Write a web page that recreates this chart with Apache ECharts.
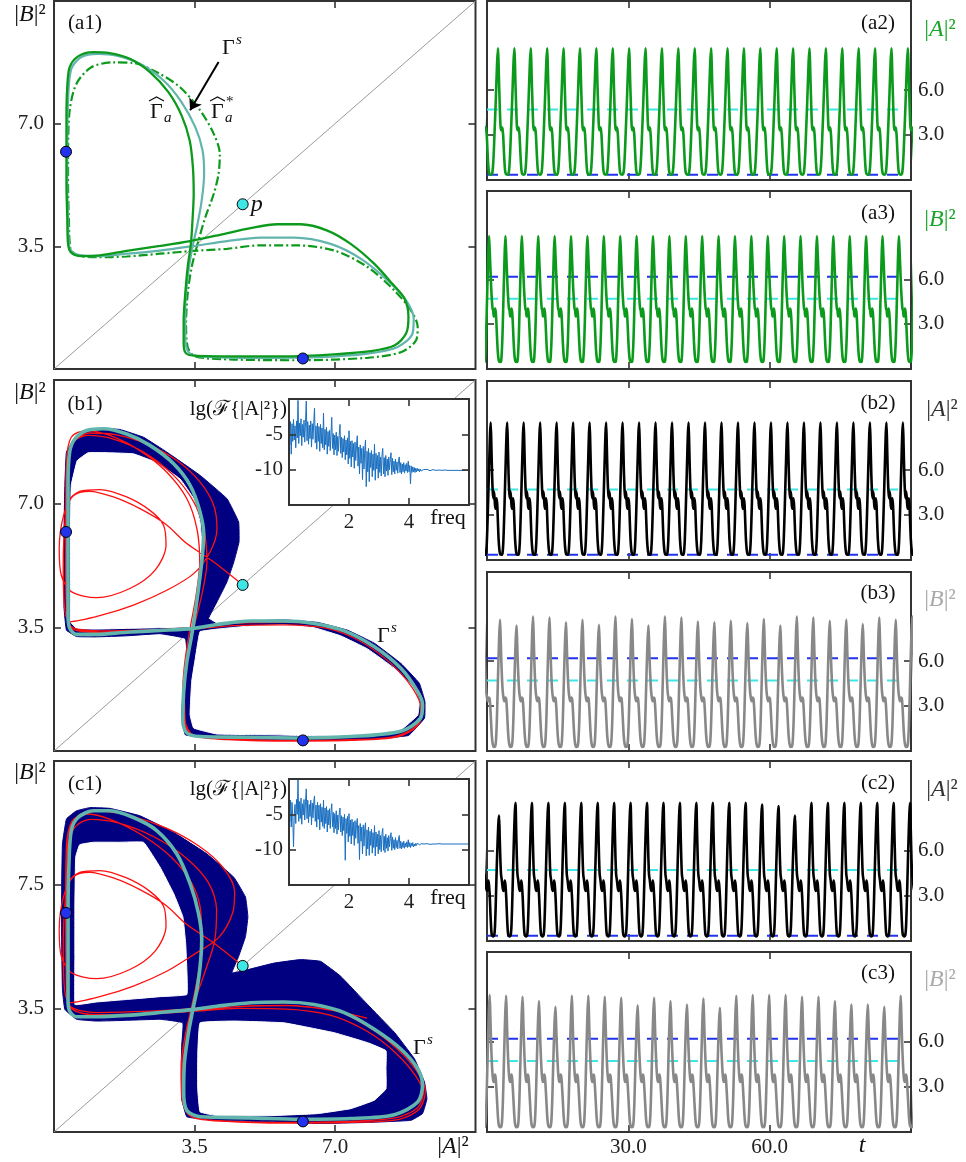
<!DOCTYPE html>
<html><head><meta charset="utf-8">
<script src="https://cdn.jsdelivr.net/npm/echarts@6/dist/echarts.min.js"></script>
<style>html,body{margin:0;padding:0;background:#fff}#c{width:966px;height:1162px}</style>
</head><body><div id="c"></div>
<script>
// ---------------- DATA ----------------
const phaseTicks = [3.5, 7.0];
const tsTicksY = [3, 6];
const tsTicksX = [30, 60];
const specTicksX = [2, 4];
const specTicksY = [-10, -5];

const pointsBlue = [[0.3, 6.2], [6.2, 0.3]];
const pointP = [[4.7, 4.7]];
const diagonal = [[0, 0], [10.5, 10.5]];
const arrowA1 = [[4.1, 8.76], [3.39, 7.38]];

// (a1) curves [|A|^2, |B|^2]
const gammaA_a1 = [[0.31,6.20],[0.31,7.19],[0.33,8.04],[0.39,8.61],[0.60,8.92],[0.98,9.04],[1.39,9.01],[1.89,8.85],[2.39,8.47],[2.85,7.90],[3.18,7.23],[3.38,6.52],[3.46,5.76],[3.48,5.00],[3.45,4.24],[3.41,3.57],[3.33,2.91],[3.27,2.15],[3.23,1.39],[3.23,0.72],[3.28,0.46],[3.48,0.38],[4.48,0.36],[5.73,0.36],[6.98,0.42],[7.89,0.51],[8.48,0.67],[8.77,1.01],[8.83,1.48],[8.73,2.01],[8.43,2.43],[7.98,3.00],[7.39,3.57],[6.81,3.95],[6.14,4.13],[5.56,4.13],[4.89,4.02],[4.14,3.83],[3.39,3.65],[2.64,3.51],[1.81,3.37],[1.14,3.24],[0.68,3.22],[0.43,3.32],[0.35,3.57],[0.33,4.33],[0.31,5.29],[0.31,6.20]];
const gammaS_a1 = [[0.33,6.20],[0.35,7.66],[0.43,8.56],[0.68,8.90],[1.10,8.99],[1.56,8.94],[2.14,8.71],[2.73,8.23],[3.18,7.61],[3.52,6.90],[3.70,6.24],[3.74,5.57],[3.68,4.81],[3.56,4.05],[3.43,3.38],[3.33,2.62],[3.27,1.77],[3.27,0.91],[3.35,0.48],[3.64,0.36],[4.89,0.32],[6.56,0.34],[7.81,0.44],[8.56,0.63],[8.93,1.01],[8.96,1.44],[8.77,1.96],[8.31,2.53],[7.64,3.15],[6.89,3.57],[5.98,3.75],[5.14,3.75],[4.31,3.65],[3.48,3.51],[2.64,3.38],[1.81,3.29],[1.06,3.22],[0.56,3.27],[0.38,3.48],[0.35,4.33],[0.33,5.29],[0.33,6.20]];
const gammaAstar_a1 = [[0.35,6.20],[0.39,7.38],[0.56,8.14],[0.93,8.61],[1.48,8.75],[1.98,8.73],[2.56,8.47],[3.14,8.04],[3.64,7.38],[3.98,6.71],[4.13,6.14],[4.10,5.57],[3.98,5.00],[3.77,4.33],[3.60,3.67],[3.43,2.91],[3.33,2.15],[3.29,1.29],[3.33,0.63],[3.52,0.36],[4.48,0.27],[6.14,0.25],[7.81,0.32],[8.64,0.48],[9.02,0.82],[9.06,1.20],[8.89,1.67],[8.48,2.24],[7.81,2.91],[6.98,3.38],[5.98,3.53],[5.14,3.53],[4.31,3.43],[3.48,3.37],[2.64,3.29],[1.81,3.21],[1.06,3.19],[0.60,3.24],[0.41,3.43],[0.37,4.33],[0.35,5.29],[0.35,6.20]];

// (b1)
const bandOuterB1 = [[3.27,3.19],[2.64,3.32],[1.81,3.26],[1.06,3.23],[0.56,3.24],[0.31,3.42],[0.25,4.04],[0.25,4.60],[0.25,6.29],[0.27,7.52],[0.31,8.46],[0.56,8.93],[1.06,9.13],[1.64,9.10],[2.23,8.88],[2.81,8.46],[3.64,7.80],[4.31,7.14],[4.60,6.48],[4.61,5.92],[4.48,5.35],[4.31,4.79],[4.06,4.22],[3.85,3.75],[4.06,3.60],[4.89,3.68],[5.73,3.71],[6.56,3.64],[7.31,3.42],[7.98,3.05],[8.64,2.48],[9.10,1.92],[9.24,1.40],[9.23,0.93],[8.83,0.44],[7.81,0.33],[6.56,0.30],[5.31,0.32],[4.06,0.35],[3.27,0.46],[3.18,1.03],[3.21,1.59],[3.27,2.34],[3.31,2.81]];
const holeUpperB1 = [[0.41,3.66],[0.41,4.60],[0.41,6.29],[0.43,7.52],[0.58,8.22],[0.85,8.44],[1.39,8.44],[1.98,8.41],[2.56,8.16],[3.14,7.70],[3.48,7.14],[3.64,6.48],[3.68,5.92],[3.67,5.35],[3.63,4.79],[3.56,4.22],[3.49,3.66],[3.43,3.52],[2.64,3.49],[1.81,3.47],[1.06,3.45],[0.56,3.47]];
const holeLowerB1 = [[3.64,3.38],[4.06,3.45],[4.89,3.54],[5.73,3.57],[6.48,3.49],[7.14,3.26],[7.81,2.89],[8.48,2.34],[8.96,1.80],[9.10,1.40],[9.06,1.01],[8.64,0.60],[7.81,0.46],[6.56,0.43],[5.31,0.46],[4.06,0.48],[3.48,0.65],[3.39,1.03],[3.43,1.97],[3.52,2.62],[3.60,3.19]];
const gammaS_b1 = [[0.35,3.85],[0.35,4.98],[0.35,6.29],[0.35,7.52],[0.39,8.46],[0.52,8.83],[0.81,9.07],[1.23,9.12],[1.81,8.97],[2.39,8.65],[2.98,8.13],[3.39,7.52],[3.64,6.76],[3.73,6.11],[3.68,5.35],[3.60,4.60],[3.52,3.94],[3.43,3.28],[3.31,2.53],[3.23,1.68],[3.21,0.84],[3.31,0.51],[3.64,0.41],[4.89,0.39],[6.14,0.37],[7.39,0.41],[8.64,0.56],[9.13,0.93],[9.18,1.31],[9.06,1.68],[8.64,2.34],[7.98,2.95],[7.23,3.40],[6.48,3.61],[5.73,3.68],[4.89,3.68],[4.06,3.58],[3.48,3.47],[2.64,3.41],[1.81,3.36],[1.06,3.30],[0.56,3.30],[0.39,3.47],[0.35,3.85]];
const redB1 = [[4.7,4.7],[3.98,5.35],[3.31,5.87],[2.77,6.43],[2.14,6.86],[1.48,7.19],[0.89,7.35],[0.48,7.22],[0.24,6.67],[0.13,5.73],[0.18,4.98],[0.43,4.51],[1.06,4.34],[1.89,4.60],[2.52,5.12],[2.79,5.82],[2.73,6.39],[2.39,6.81],[1.81,7.19],[1.14,7.40],[0.64,7.35],[0.35,7.05],[0.27,6.39],[0.23,5.35],[0.25,4.22],[0.39,3.66],[1.14,3.83],[1.98,4.13],[2.81,4.55],[3.48,5.02],[3.89,5.64],[4.06,6.29],[3.98,6.95],[3.64,7.61],[3.06,8.22],[2.31,8.69],[1.56,8.95],[0.89,9.00],[0.52,8.79],[0.35,8.17],[0.31,7.05],[0.29,5.45],[0.31,4.04],[0.43,3.47],[1.14,3.36],[2.39,3.40],[3.48,3.45],[4.48,3.55],[5.73,3.57],[6.81,3.47],[7.64,3.10],[8.39,2.48],[8.93,1.78],[9.14,1.21],[9.01,0.70],[8.48,0.41],[7.39,0.32],[5.73,0.30],[4.31,0.34],[3.48,0.44],[3.27,0.84],[3.25,1.68],[3.33,2.62],[3.48,3.47],[3.68,4.41],[3.81,5.35],[3.73,6.29],[3.48,7.05],[2.98,7.80],[2.23,8.46],[1.48,8.83],[0.85,8.93],[0.48,8.74],[0.33,7.99],[0.31,6.39],[0.31,4.51],[0.39,3.57],[1.14,3.40],[2.39,3.43],[3.48,3.49],[4.48,3.61],[5.73,3.64],[6.81,3.55],[7.72,3.14],[8.48,2.53],[9.01,1.82],[9.21,1.26],[9.06,0.72],[8.56,0.40],[7.39,0.30],[5.73,0.28],[4.31,0.32],[3.43,0.46],[3.23,0.93],[3.21,1.78],[3.27,2.62],[3.39,3.47],[3.54,4.41],[3.63,5.35],[3.56,6.29],[3.31,7.14],[2.81,7.89],[2.14,8.50],[1.39,8.93],[0.81,9.07],[0.43,8.88],[0.31,8.17],[0.29,6.39]];

// (c1)
const bandOuterC1 = [[3.21,3.09],[2.64,3.19],[1.81,3.16],[1.06,3.14],[0.56,3.19],[0.27,3.47],[0.21,4.03],[0.19,5.44],[0.19,6.84],[0.21,8.15],[0.31,8.86],[0.56,9.09],[0.89,9.18],[1.39,9.16],[2.14,8.95],[2.98,8.48],[3.81,7.87],[4.48,7.21],[4.77,6.65],[4.83,6.09],[4.77,5.53],[4.60,4.97],[4.43,4.50],[4.81,4.59],[5.48,4.78],[6.14,4.88],[6.64,4.83],[7.14,4.41],[7.81,3.61],[8.48,2.82],[8.98,2.07],[9.23,1.41],[9.29,0.94],[9.18,0.52],[8.89,0.33],[7.81,0.27],[6.56,0.24],[5.31,0.29],[4.06,0.33],[3.31,0.43],[3.18,0.94],[3.17,1.69],[3.18,2.44]];
const holeUpperC1 = [[0.52,3.61],[0.52,4.97],[0.52,6.37],[0.54,7.78],[0.64,8.13],[0.98,8.20],[1.64,8.20],[2.23,8.20],[2.64,7.50],[2.98,6.75],[3.21,6.09],[3.28,5.34],[3.31,4.59],[3.31,3.89],[2.64,3.83],[1.81,3.75],[1.06,3.68],[0.64,3.61]];
const holeLowerC1 = [[3.64,3.09],[4.48,3.14],[5.73,3.09],[6.98,2.81],[7.81,2.53],[8.27,2.30],[8.27,1.79],[8.27,1.22],[7.98,0.90],[7.39,0.66],[6.56,0.52],[5.31,0.46],[4.06,0.46],[3.64,0.57],[3.58,1.22],[3.58,2.16]];
const gammaS_c1 = [[0.35,3.66],[0.35,4.97],[0.35,6.28],[0.37,7.50],[0.43,8.53],[0.60,8.90],[0.98,9.09],[1.39,9.09],[1.98,8.90],[2.56,8.53],[3.06,7.87],[3.39,7.03],[3.60,6.19],[3.68,5.44],[3.64,4.69],[3.56,4.03],[3.46,3.47],[3.35,2.81],[3.25,1.97],[3.23,1.13],[3.31,0.61],[3.64,0.43],[4.89,0.40],[6.14,0.36],[7.39,0.38],[8.48,0.49],[9.06,0.85],[9.18,1.32],[9.06,1.79],[8.64,2.35],[7.98,2.91],[7.23,3.38],[6.48,3.61],[5.73,3.68],[4.89,3.66],[4.06,3.56],[3.48,3.47],[2.64,3.38],[1.81,3.30],[1.06,3.26],[0.56,3.26],[0.39,3.42],[0.35,3.66]];
const redC1 = [[4.7,4.7],[3.98,5.35],[3.31,5.87],[2.77,6.43],[2.14,6.86],[1.48,7.19],[0.89,7.35],[0.48,7.22],[0.24,6.67],[0.13,5.73],[0.18,4.98],[0.43,4.51],[1.06,4.34],[1.89,4.60],[2.52,5.12],[2.79,5.82],[2.73,6.39],[2.39,6.81],[1.81,7.19],[1.14,7.40],[0.64,7.35],[0.35,7.05],[0.27,6.39],[0.23,5.35],[0.25,4.22],[0.39,3.66],[1.14,3.83],[1.98,4.13],[2.81,4.55],[3.48,5.02],[4.1,5.5],[4.45,6.2],[4.5,6.8],[4.2,7.5],[3.6,8.1],[2.8,8.6],[1.9,8.95],[1.1,9.08],[0.6,8.95],[0.35,8.4],[0.3,7.2],[0.3,5.6],[0.31,4.2],[0.42,3.5],[1.1,3.32],[2.4,3.35],[3.5,3.42],[4.6,3.5],[5.8,3.48],[6.9,3.3],[7.8,2.85],[8.5,2.25],[9.0,1.6],[9.2,1.1],[9.05,0.68],[8.5,0.4],[7.3,0.3],[5.7,0.27],[4.3,0.31],[3.45,0.42],[3.22,0.9],[3.2,1.8],[3.3,2.7],[3.45,3.5],[3.75,4.5],[4.0,5.4],[4.05,6.3],[3.85,7.05],[3.3,7.75],[2.5,8.35],[1.6,8.75],[0.9,8.85],[0.5,8.6],[0.33,7.9],[0.3,6.4],[0.3,4.6],[0.38,3.6],[1.1,3.38],[2.4,3.42],[3.5,3.5],[4.6,3.62],[5.8,3.66],[6.9,3.5],[7.8,3.0],[8.55,2.35],[9.05,1.7],[9.25,1.15],[9.1,0.65],[8.6,0.36],[7.4,0.27],[5.8,0.25],[4.3,0.3],[3.4,0.45],[3.18,1.0],[3.17,1.9],[3.28,2.8],[3.42,3.5],[3.58,4.4],[3.68,5.3],[3.66,6.2],[3.45,7.0],[2.95,7.75],[2.2,8.4],[1.4,8.85],[0.8,9.0],[0.45,8.8],[0.31,8.1],[0.29,6.5],[0.3,4.6],[0.4,3.55],[1.1,3.3],[2.4,3.36],[3.5,3.45],[4.6,3.55],[5.8,3.58],[6.9,3.45],[7.8,3.22]];

// spectra lg(F{|A|^2})
const specStep = 0.025, tailStart = 4.5, tailStep = 0.1;
const specB1 = [-0.3,-6.5,-3.2,-7.8,-3.5,-6.0,-2.9,-5.8,-3.8,-6.9,-3.1,-5.5,-0.2,-6.3,-3.4,-5.2,-2.8,-6.6,-3.6,-5.4,-3.0,-6.1,-3.3,-0.3,-5.9,-3.2,-6.4,-3.7,-5.6,-3.1,-6.8,-3.5,-5.7,-3.3,-1.3,-6.2,-3.8,-7.1,-3.4,-6.0,-3.9,-7.4,-3.6,-6.3,-4.1,-6.9,-2.0,-7.2,-4.3,-6.5,-4.0,-7.8,-4.6,-6.7,-4.4,-7.3,-4.8,-2.6,-7.0,-4.9,-7.9,-5.1,-7.2,-4.7,-8.0,-5.3,-7.4,-5.0,-3.6,-7.7,-5.4,-8.3,-5.6,-7.5,-5.2,-8.6,-5.8,-7.9,-5.5,-9.2,-4.5,-8.4,-6.0,-9.6,-5.9,-8.2,-6.3,-9.8,-6.1,-8.7,-6.6,-5.2,-9.5,-6.8,-10.6,-6.5,-9.1,-7.0,-11.4,-6.7,-9.9,-7.2,-5.8,-12.4,-7.4,-10.3,-7.0,-11.7,-7.6,-9.7,-7.3,-11.0,-7.8,-10.1,-6.4,-11.5,-7.7,-9.9,-8.0,-11.2,-7.5,-10.4,-8.2,-10.9,-7.9,-7.0,-10.6,-8.3,-11.0,-8.0,-10.2,-8.5,-10.8,-8.2,-10.0,-8.6,-7.6,-10.7,-8.4,-10.3,-8.8,-10.6,-8.5,-10.1,-8.9,-10.5,-8.7,-8.2,-10.4,-9.0,-10.6,-9.2,-10.3,-9.0,-10.5,-9.3,-10.2,-9.1,-10.4,-8.8,-10.3,-9.4,-12.0,-9.5,-10.4,-9.6,-10.3,-9.7,-10.4,-9.8,-10.3,-9.8,-10.2,-9.9,-10.3,-9.9,-10.2,-9.95,-10.2,-10.0];
const specTailB1 = [-10.1,-9.95,-10.15,-10.0,-10.1,-10.05,-10.1,-10.05,-10.1,-10.1,-10.1,-10.1,-10.1,-10.1,-10.1,-10.1];
const specC1 = [-0.2,-6.0,-3.0,-6.8,-3.3,-5.4,-9.6,-5.1,-3.6,-6.3,-2.9,-5.0,-0.1,-6.0,-3.2,-5.6,-2.7,-6.4,-3.5,-5.1,-2.9,-5.8,-3.2,-1.4,-5.6,-3.0,-6.2,-3.6,-5.3,-3.0,-6.5,-3.4,-5.5,-3.2,-2.4,-6.0,-3.7,-6.8,-3.3,-5.7,-3.7,-7.2,-3.5,-6.1,-4.0,-6.7,-3.0,-7.0,-4.1,-6.3,-3.9,-7.5,-4.4,-6.5,-4.2,-7.0,-4.6,-3.5,-6.8,-4.7,-7.6,-4.9,-7.0,-4.5,-7.8,-5.1,-7.2,-4.8,-4.1,-7.5,-5.2,-8.0,-5.4,-7.3,-5.0,-11.5,-5.6,-7.7,-5.3,-8.9,-4.9,-8.1,-5.8,-9.2,-5.7,-8.0,-6.1,-9.4,-5.9,-8.4,-6.4,-5.6,-9.1,-6.6,-11.4,-6.3,-8.8,-6.8,-10.6,-6.5,-9.5,-7.0,-6.2,-10.9,-7.2,-9.9,-6.8,-10.8,-7.4,-9.4,-7.1,-10.5,-7.6,-9.7,-6.6,-10.9,-7.5,-9.6,-7.8,-10.6,-7.3,-10.0,-8.0,-10.3,-7.7,-7.0,-10.1,-8.1,-10.4,-7.8,-9.8,-8.3,-10.2,-8.0,-9.6,-8.4,-7.6,-10.1,-8.2,-9.8,-8.6,-10.0,-8.3,-9.7,-8.7,-9.9,-8.5,-8.0,-9.8,-8.8,-9.9,-9.0,-9.7,-8.8,-9.8,-9.1,-9.6,-8.9,-9.7,-8.6,-9.6,-9.0,-9.7,-9.1,-9.5,-9.0,-9.6,-9.2,-9.5,-9.1,-9.4,-9.1,-9.35,-9.15,-9.3,-9.1,-9.3,-9.15,-9.25,-9.2];
const specTailC1 = [-9.2,-9.15,-9.25,-9.2,-9.2,-9.15,-9.2,-9.2,-9.2,-9.2,-9.2,-9.2,-9.2,-9.2,-9.2,-9.2];

// time series: one measured cycle [phase, value] starting at a peak, first-peak time, period, measured peak heights
const cycleA_a = [[0,8.82],[0.03,7.9],[0.06,6.6],[0.09,5.5],[0.12,4.4],[0.15,3.6],[0.18,3.3],[0.21,3.3],[0.24,3.5],[0.27,3.4],[0.31,3.0],[0.35,2.1],[0.39,1.2],[0.43,0.6],[0.48,0.35],[0.56,0.3],[0.64,0.38],[0.69,0.8],[0.74,1.8],[0.79,3.2],[0.85,4.9],[0.90,6.5],[0.95,8.0],[1.0,8.82]];
const cycleB_a = [[0,8.95],[0.04,8.0],[0.08,6.9],[0.13,5.5],[0.18,4.5],[0.22,4.0],[0.25,3.95],[0.29,3.5],[0.33,3.6],[0.37,4.05],[0.41,3.8],[0.45,3.1],[0.50,1.8],[0.55,0.9],[0.60,0.5],[0.66,0.42],[0.73,0.45],[0.77,0.9],[0.82,2.2],[0.87,4.3],[0.92,6.4],[0.96,8.0],[1.0,8.95]];
const cycleA_b = [[0,9.2],[0.04,7.6],[0.08,5.8],[0.12,4.6],[0.16,4.1],[0.20,4.55],[0.24,4.0],[0.28,3.4],[0.32,3.5],[0.36,4.1],[0.40,3.6],[0.44,2.4],[0.48,1.3],[0.53,0.6],[0.58,0.32],[0.66,0.3],[0.72,0.45],[0.77,1.3],[0.82,3.0],[0.87,5.0],[0.92,7.0],[0.96,8.5],[1.0,9.2]];
const cycleB_b = [[0,9.0],[0.04,7.6],[0.08,6.0],[0.12,4.8],[0.16,4.0],[0.20,3.6],[0.25,3.3],[0.29,3.3],[0.33,3.55],[0.37,3.45],[0.41,2.9],[0.45,2.0],[0.50,1.0],[0.55,0.45],[0.62,0.22],[0.70,0.25],[0.75,0.6],[0.80,1.8],[0.85,3.8],[0.90,6.0],[0.95,7.9],[1.0,9.0]];
const cycleA_c = [[0,9.2],[0.04,7.4],[0.08,5.6],[0.12,4.4],[0.17,4.0],[0.22,3.5],[0.27,3.3],[0.31,3.6],[0.35,4.0],[0.39,3.7],[0.44,2.8],[0.48,1.7],[0.52,0.8],[0.56,0.35],[0.64,0.25],[0.71,0.35],[0.76,1.1],[0.81,2.9],[0.86,5.0],[0.91,7.0],[0.96,8.6],[1.0,9.2]];
const cycleB_c = [[0,9.1],[0.04,7.7],[0.08,6.1],[0.12,4.9],[0.16,4.0],[0.20,3.5],[0.24,3.3],[0.28,3.35],[0.32,3.8],[0.36,3.6],[0.40,3.0],[0.45,2.0],[0.50,1.0],[0.55,0.45],[0.62,0.27],[0.70,0.3],[0.75,0.65],[0.80,1.9],[0.85,3.9],[0.90,6.1],[0.95,8.0],[1.0,9.1]];
const firstPeak = {a2:2.34, a3:0.43, b2:0.79, b3:2.77, c2:2.56, c3:0.57};
const periods = {a:3.48, b:3.50, c:3.49};
const peaksB3 = [8.78,8.4,9.0,8.93,8.62,8.78,8.44,9.0,8.84,8.4,9.0,8.93,8.67,8.62,8.71,8.56,8.84,8.4,9.0,8.93,8.71,8.78,8.49,8.93,8.78];
const peaksC2 = [8.35,9.2,9.2,9.2,9.2,9.2,9.2,9.2,9.2,9.2,9.2,9.2,9.2,9.2,9.2,9.2,9.09,8.98,8.35,9.2,9.2,9.2,9.2,9.2,9.2,9.2];
const peaksC3 = [9.11,9.07,9.0,8.71,8.33,9.07,9.07,9.0,8.93,8.44,8.93,8.71,8.49,8.89,8.27,9.07,9.11,9.11,9.11,9.0,9.0,8.71,8.49,8.49,8.33,9.07];
const levelBlueA = 0.3, levelBlueB = 6.2, levelCyan = 4.7;
const levelSpan = [0, 88.4];

// ---------------- BUILD ----------------
const FONT = '"Liberation Serif","DejaVu Serif","Times New Roman",serif';
const grids = [], xAxes = [], yAxes = [], series = [], graphics = [];
const GREEN = '#0c9a1c', TEAL = '#62b5ad', NAVY = '#000080', RED = '#ff1010', BLUE = '#2233ee', CYAN = '#3ee6e6';

function axis(gi, pos, range, ticks, showLabels, fmt, z, margin) {
  return {
    gridIndex: gi, type: 'value', position: pos, min: range[0], max: range[1], z: z || 0,
    axisLine: {show: false, onZero: false}, splitLine: {show: false},
    axisTick: {show: true, inside: true, length: 7, lineStyle: {color: '#333', width: 1.6}, customValues: ticks},
    axisLabel: {show: showLabels, customValues: ticks, formatter: fmt, color: '#222', fontFamily: FONT, fontSize: 21, margin: margin || 8}
  };
}
function addGrid(rect, xr, yr, o) {
  const gi = grids.length;
  grids.push({left: rect[0], top: rect[1], width: rect[2], height: rect[3], show: true, borderColor: '#333', borderWidth: 2, backgroundColor: 'transparent', z: o.z || 0});
  xAxes.push(axis(gi, 'bottom', xr, o.xt, !!o.xLab, o.xfmt, o.z, o.xm));
  xAxes.push(axis(gi, 'top', xr, o.xt, false, null, o.z));
  yAxes.push(axis(gi, 'left', yr, o.yt, !!o.yLeftLab, o.yfmt, o.z, o.ym));
  yAxes.push(axis(gi, 'right', yr, o.yt, !!o.yRightLab, o.yfmt, o.z, o.ym));
  return gi;
}
function line(gi, data, color, width, z, extra) {
  return Object.assign({type: 'line', xAxisIndex: 2 * gi, yAxisIndex: 2 * gi, data: data, showSymbol: false, symbol: 'none',
    lineStyle: {color: color, width: width}, z: z, silent: true, animation: false}, extra || {});
}
function poly(gi, pts, color, z) {
  return {type: 'custom', xAxisIndex: 2 * gi, yAxisIndex: 2 * gi, z: z, silent: true, animation: false,
    data: [pts[0]],
    renderItem: function (params, api) {
      return {type: 'polygon', shape: {points: pts.map(function (p) { return api.coord(p); }), smooth: 0.08},
        style: {fill: color, stroke: color, lineWidth: 1}};
    }};
}
function dots(gi, pts, color, z, label) {
  return {type: 'scatter', xAxisIndex: 2 * gi, yAxisIndex: 2 * gi, data: pts, symbolSize: 11, z: z, silent: true, animation: false,
    itemStyle: {color: color, borderColor: '#000', borderWidth: 1, opacity: 1},
    label: label ? {show: true, position: 'right', distance: 2, formatter: label, fontFamily: FONT, fontStyle: 'italic', fontSize: 24, color: '#111'} : {show: false}};
}
function txt(x, y, text, o) {
  o = o || {};
  const c = o.color || '#111', s = o.size || 21;
  graphics.push({type: 'text', x: x, y: y, z: 100, silent: true, style: {
    text: text, fill: c, font: (o.italic ? 'italic ' : '') + s + 'px ' + FONT,
    textAlign: o.align || 'center', textVerticalAlign: 'middle', align: o.align || 'center', verticalAlign: 'middle',
    rich: {
      n: {fill: c, fontSize: s, fontFamily: FONT},
      i: {fill: c, fontSize: s, fontFamily: FONT, fontStyle: 'italic'}
    }
  }});
}
function hat(x0, x1, y) {
  graphics.push({type: 'polyline', z: 100, silent: true, shape: {points: [[x0, y + 4], [(x0 + x1) / 2, y], [x1, y + 4]]},
    style: {stroke: '#111', lineWidth: 1.2, fill: null}});
}
function cycles(cyc, t0, T, peaks) {
  const P0 = cyc[0][1], S = 4.5, out = [];
  const pk = function (k) { return (peaks && k >= 0 && k < peaks.length) ? peaks[k] : P0; };
  const kMax = Math.ceil((90 - t0) / T) + 1;
  for (let k = -1; k <= kMax; k++) {
    for (let j = 0; j < cyc.length - 1; j++) {
      const ph = cyc[j][0], v = cyc[j][1];
      const P = ph < 0.5 ? pk(k) : pk(k + 1);
      out.push([t0 + (k + ph) * T, v > S ? S + (v - S) * (P - S) / (P0 - S) : v]);
    }
  }
  return out;
}
function spectrum(main, tail) {
  const out = main.map(function (v, i) { return [i * specStep, v]; });
  tail.forEach(function (v, j) { out.push([tailStart + j * tailStep, v]); });
  return out;
}

const f1 = function (v) { return v.toFixed(1); };
const PH = [0, 10.5];
const gA1 = addGrid([54, 1, 421.5, 368], PH, PH, {xt: phaseTicks, yt: phaseTicks, yLeftLab: true, yfmt: f1, ym: 10});
const gB1 = addGrid([54, 380, 421.5, 371], PH, PH, {xt: phaseTicks, yt: phaseTicks, yLeftLab: true, yfmt: f1, ym: 10});
const gC1 = addGrid([54, 761, 421.5, 371], PH, PH, {xt: phaseTicks, yt: phaseTicks, yLeftLab: true, xLab: true, xfmt: f1, xm: 5,
  yfmt: function (v) { return v === 7 ? '7.5' : v.toFixed(1); }, ym: 10});
const TS = [0, 90], TY = [-0.05, 12];
const tsOpt = {xt: tsTicksX, yt: tsTicksY, yRightLab: true, yfmt: f1, ym: 7};
const gA2 = addGrid([487, 1, 424, 179], TS, TY, tsOpt);
const gA3 = addGrid([487, 191, 424, 178], TS, TY, tsOpt);
const gB2 = addGrid([487, 381, 424, 179], TS, TY, tsOpt);
const gB3 = addGrid([487, 572, 424, 179], TS, TY, tsOpt);
const gC2 = addGrid([487, 761, 424, 180], TS, TY, tsOpt);
const gC3 = addGrid([487, 952, 424, 180], TS, TY, Object.assign({}, tsOpt, {xLab: true, xfmt: f1, xm: 5}));
const insOpt = {xt: specTicksX, yt: specTicksY, xLab: true, yLeftLab: true, xfmt: function (v) { return String(v); }, yfmt: function (v) { return String(v); }, xm: 7, ym: 6, z: 9};
const gIB = addGrid([289, 399, 180, 106], [0, 6], [-15, 0], insOpt);
const gIC = addGrid([289, 779, 180, 106], [0, 6], [-15, 0], insOpt);

// (a1)
series.push(line(gA1, diagonal, '#9a9a9a', 1, 1));
series.push(line(gA1, gammaAstar_a1, GREEN, 2.2, 3, {smooth: 0.3, lineStyle: {color: GREEN, width: 2.2, type: [9, 3, 2, 3]}}));
series.push(line(gA1, gammaS_a1, TEAL, 2.2, 3, {smooth: 0.3}));
series.push(line(gA1, gammaA_a1, GREEN, 2.3, 4, {smooth: 0.3}));
series.push({type: 'lines', coordinateSystem: 'cartesian2d', xAxisIndex: 2 * gA1, yAxisIndex: 2 * gA1, z: 5, silent: true, animation: false,
  data: [{coords: arrowA1}], symbol: ['none', 'arrow'], symbolSize: 11, lineStyle: {color: '#000', width: 2, opacity: 1, curveness: 0}});
series.push(dots(gA1, pointsBlue, BLUE, 6));
series.push(dots(gA1, pointP, CYAN, 6, 'p'));

// (b1), (c1)
[[gB1, bandOuterB1, holeUpperB1, holeLowerB1, redB1, gammaS_b1], [gC1, bandOuterC1, holeUpperC1, holeLowerC1, redC1, gammaS_c1]].forEach(function (r) {
  const g = r[0];
  series.push(line(g, diagonal, '#9a9a9a', 1, 1));
  series.push(poly(g, r[1], NAVY, 2));
  series.push(poly(g, r[2], '#ffffff', 3));
  series.push(poly(g, r[3], '#ffffff', 3));
  series.push(line(g, r[4], RED, 1.3, 4, {smooth: 0.3}));
  series.push(line(g, r[5], TEAL, 3.6, 5, {smooth: 0.3}));
  series.push(dots(g, pointsBlue, BLUE, 6));
  series.push(dots(g, pointP, CYAN, 6));
});

// insets
[[gIB, specB1, specTailB1], [gIC, specC1, specTailC1]].forEach(function (r) {
  const g = r[0];
  series.push({type: 'custom', xAxisIndex: 2 * g, yAxisIndex: 2 * g, z: 7, silent: true, animation: false, data: [[0, 0]],
    renderItem: function (params, api) {
      const cs = params.coordSys;
      return {type: 'rect', shape: {x: cs.x, y: cs.y, width: cs.width, height: cs.height}, style: {fill: '#fff'}};
    }});
  series.push(line(g, spectrum(r[1], r[2]), '#1a6fc0', 1, 8));
});

// time series
function tsPanel(g, data, color, blueLevel) {
  series.push(line(g, [[levelSpan[0], blueLevel], [levelSpan[1], blueLevel]], BLUE, 2, 2, {lineStyle: {color: BLUE, width: 2, type: [11, 9]}}));
  series.push(line(g, [[levelSpan[0], levelCyan], [levelSpan[1], levelCyan]], CYAN, 2, 2, {lineStyle: {color: CYAN, width: 2, type: [11, 9]}}));
  series.push(line(g, data, color, 2.6, 3, {smooth: 0.25}));
}
tsPanel(gA2, cycles(cycleA_a, firstPeak.a2, periods.a), GREEN, levelBlueA);
tsPanel(gA3, cycles(cycleB_a, firstPeak.a3, periods.a), GREEN, levelBlueB);
tsPanel(gB2, cycles(cycleA_b, firstPeak.b2, periods.b), '#000', levelBlueA);
tsPanel(gB3, cycles(cycleB_b, firstPeak.b3, periods.b, peaksB3), '#888', levelBlueB);
tsPanel(gC2, cycles(cycleA_c, firstPeak.c2, periods.c, peaksC2), '#000', levelBlueA);
tsPanel(gC3, cycles(cycleB_c, firstPeak.c3, periods.c, peaksC3), '#888', levelBlueB);

// texts
const absB = '{n||}{i|B}{n||²}', absA = '{n||}{i|A}{n||²}';
txt(85, 23, '(a1)'); txt(85, 404, '(b1)'); txt(85, 784, '(c1)');
txt(30, 15, absB, {size: 24}); txt(30, 393, absB, {size: 24}); txt(30, 773, absB, {size: 24});
txt(453, 1147, absA, {size: 24});
txt(878, 23, '(a2)'); txt(940, 30, absA, {size: 24, color: '#1aa52a'});
txt(878, 213, '(a3)'); txt(940, 220, absB, {size: 24, color: '#1aa52a'});
txt(878, 403, '(b2)'); txt(942, 410, absA, {size: 24, color: '#333'});
txt(878, 593, '(b3)'); txt(940, 600, absB, {size: 24, color: '#aaaaaa'});
txt(878, 783, '(c2)'); txt(942, 790, absA, {size: 24, color: '#333'});
txt(878, 973, '(c3)'); txt(940, 980, absB, {size: 24, color: '#aaaaaa'});
txt(862, 1146, 't', {italic: true, size: 24});
// Gamma annotations
txt(222, 48, 'Γ', {size: 22, align: 'left'}); txt(236, 40, 's', {size: 15, italic: true, align: 'left'});
txt(150, 112, 'Γ', {size: 22, align: 'left'}); hat(149, 164, 97); txt(164, 118, 'a', {size: 15, italic: true, align: 'left'});
txt(211, 112, 'Γ', {size: 22, align: 'left'}); hat(210, 225, 97); txt(225, 118, 'a', {size: 15, italic: true, align: 'left'}); txt(226, 102, '*', {size: 15, align: 'left'});
txt(377, 636, 'Γ', {size: 22, align: 'left'}); txt(391, 628, 's', {size: 15, italic: true, align: 'left'});
txt(413, 1048, 'Γ', {size: 22, align: 'left'}); txt(427, 1040, 's', {size: 15, italic: true, align: 'left'});
txt(287, 409, 'lg(ℱ{|A|²})', {size: 21, align: 'right'});
txt(287, 789, 'lg(ℱ{|A|²})', {size: 21, align: 'right'});
txt(448, 518, 'freq', {size: 22});
txt(448, 898, 'freq', {size: 22});

const chart = echarts.init(document.getElementById('c'), null, {renderer: 'canvas'});
chart.setOption({animation: false, backgroundColor: '#fff', grid: grids, xAxis: xAxes, yAxis: yAxes, series: series, graphic: {elements: graphics}});
</script></body></html>
